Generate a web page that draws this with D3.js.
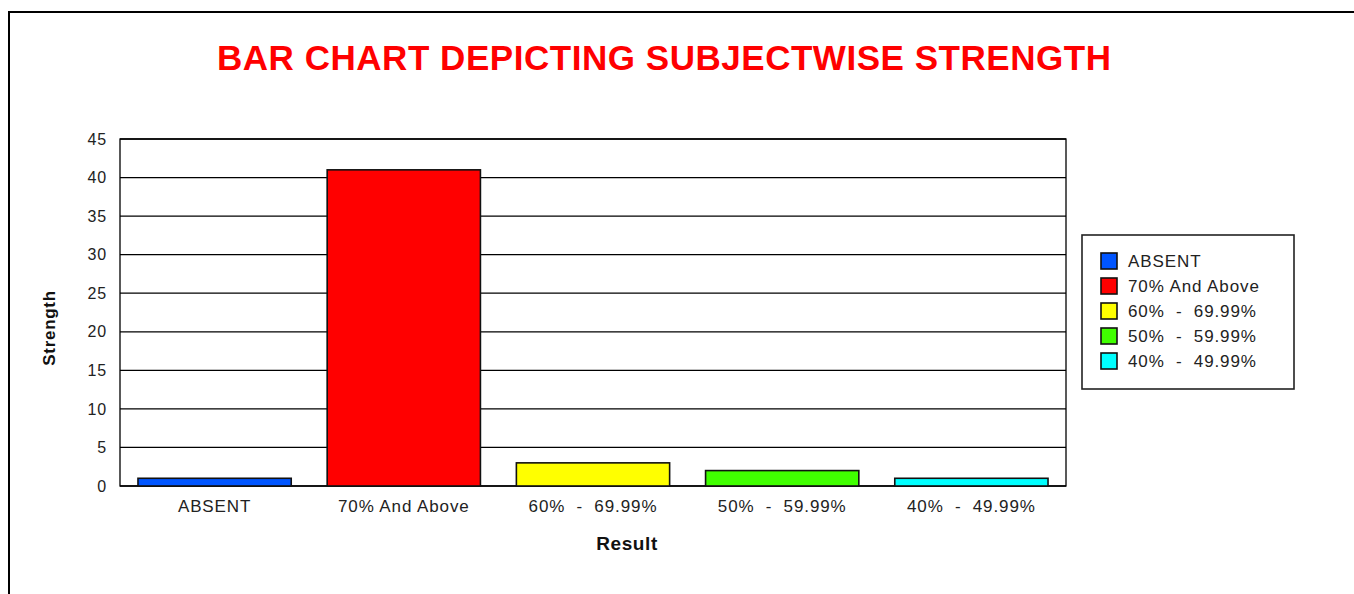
<!DOCTYPE html>
<html>
<head>
<meta charset="utf-8">
<title>Subjectwise strength</title>
<script src="https://cdn.jsdelivr.net/npm/d3@7"></script>
<style>
  body { margin: 0; background: #fff; }
  text { font-family: "Liberation Sans", Arial, sans-serif; }
</style>
</head>
<body>
<script>
  // chart data
  var categories = ["ABSENT", "70% And Above", "60%  -  69.99%", "50%  -  59.99%", "40%  -  49.99%"];
  var strength = [1, 41, 3, 2, 1];
  var barColors = ["#0055ff", "#ff0000", "#ffff00", "#40ff00", "#00ffff"];
  var yTicks = [0, 5, 10, 15, 20, 25, 30, 35, 40, 45];

  var width = 1354, height = 594;
  var svg = d3.select("body").append("svg")
              .attr("width", width)
              .attr("height", height);

  // outer frame
  svg.append("path")
     .attr("d", "M9,594 L9,12 L1354,12")
     .attr("fill", "none")
     .attr("stroke", "#000")
     .attr("stroke-width", 2);

  svg.append("text")
     .attr("x", 664).attr("y", 70)
     .attr("text-anchor", "middle")
     .attr("font-size", 35).attr("font-weight", "bold")
     .attr("textLength", 894).attr("lengthAdjust", "spacing")
     .attr("fill", "#ff0000")
     .text("BAR CHART DEPICTING SUBJECTWISE STRENGTH");

  var plotL = 120, plotR = 1066, plotT = 139, plotB = 486;

  var x = d3.scaleBand().domain(categories).range([plotL, plotR]).paddingInner(0.19).paddingOuter(0.095);
  var y = d3.scaleLinear().domain([0, 45]).range([plotB, plotT]);

  // grid
  svg.selectAll("line.grid")
     .data(yTicks)
     .enter().append("line")
     .attr("class", "grid")
     .attr("x1", plotL).attr("x2", plotR)
     .attr("y1", function(d){ return y(d); })
     .attr("y2", function(d){ return y(d); })
     .attr("stroke", "#000").attr("stroke-width", 1.3);

  svg.append("rect")
     .attr("x", plotL).attr("y", plotT)
     .attr("width", plotR - plotL).attr("height", plotB - plotT)
     .attr("fill", "none").attr("stroke", "#000").attr("stroke-width", 1.3);

  svg.selectAll("rect.bar")
     .data(strength)
     .enter().append("rect")
     .attr("class", "bar")
     .attr("x", function(d, i){ return x(categories[i]); })
     .attr("y", function(d){ return y(d); })
     .attr("width", x.bandwidth())
     .attr("height", function(d){ return plotB - y(d); })
     .attr("fill", function(d, i){ return barColors[i]; })
     .attr("stroke", "#111").attr("stroke-width", 1.6);

  var yAxis = d3.axisLeft(y).tickValues(yTicks).tickSize(0).tickPadding(13);
  var gy = svg.append("g").attr("transform", "translate(" + plotL + ",0)").call(yAxis);
  gy.select(".domain").remove();
  gy.selectAll("text").attr("font-size", 16).attr("fill", "#222")
    .attr("letter-spacing", 0.8)
    .style("font-family", "'Liberation Sans', Arial, sans-serif");

  var xAxis = d3.axisBottom(x).tickSize(0).tickPadding(14);
  var gx = svg.append("g").attr("transform", "translate(0," + plotB + ")").call(xAxis);
  gx.select(".domain").remove();
  gx.selectAll("text").attr("font-size", 17).attr("fill", "#222")
    .attr("letter-spacing", 0.9)
    .style("font-family", "'Liberation Sans', Arial, sans-serif")
    .style("white-space", "pre");

  svg.append("text")
     .attr("x", 627).attr("y", 550)
     .attr("text-anchor", "middle")
     .attr("font-size", 19).attr("font-weight", "bold")
     .attr("letter-spacing", 0.6)
     .attr("fill", "#111")
     .text("Result");

  svg.append("text")
     .attr("transform", "translate(55,328) rotate(-90)")
     .attr("text-anchor", "middle")
     .attr("font-size", 17).attr("font-weight", "bold")
     .attr("letter-spacing", 0.7)
     .attr("fill", "#111")
     .text("Strength");

  // legend
  var legend = svg.append("g").attr("transform", "translate(1082,235)");
  legend.append("rect")
        .attr("width", 212).attr("height", 154)
        .attr("fill", "#fff").attr("stroke", "#222").attr("stroke-width", 1.6);
  var items = legend.selectAll("g.item")
        .data(categories)
        .enter().append("g")
        .attr("class", "item")
        .attr("transform", function(d, i){ return "translate(19," + (18 + i * 25) + ")"; });
  items.append("rect")
       .attr("width", 16).attr("height", 16)
       .attr("fill", function(d, i){ return barColors[i]; })
       .attr("stroke", "#111").attr("stroke-width", 1.6);
  items.append("text")
       .attr("x", 27).attr("y", 14)
       .attr("font-size", 17).attr("fill", "#222")
       .attr("letter-spacing", 0.9)
       .style("white-space", "pre")
       .text(function(d){ return d; });
</script>
</body>
</html>
